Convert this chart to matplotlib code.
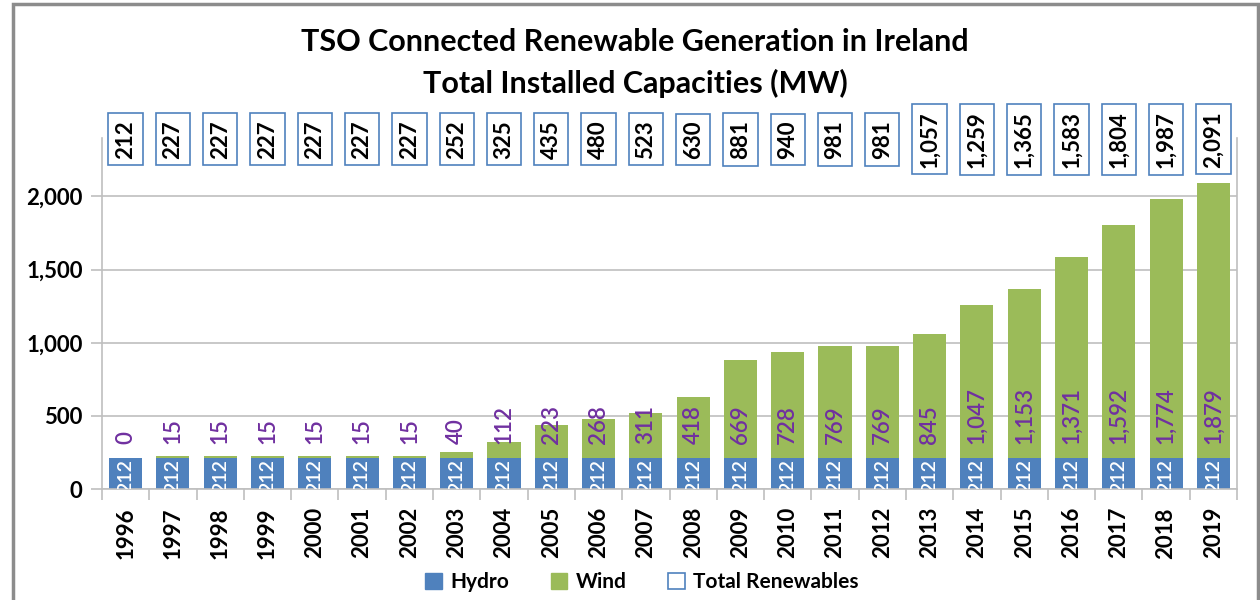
import numpy as np
import matplotlib.pyplot as plt
from matplotlib.patches import Patch, Rectangle
from matplotlib.ticker import FuncFormatter, FixedLocator

# --- DATA ---
years = [str(y) for y in range(1996, 2020)]
hydro = [212] * 24
wind = [0, 15, 15, 15, 15, 15, 15, 40, 112, 223, 268, 311, 418, 669,
        728, 769, 769, 845, 1047, 1153, 1371, 1592, 1774, 1879]
total = [212, 227, 227, 227, 227, 227, 227, 252, 325, 435, 480, 523, 630, 881,
         940, 981, 981, 1057, 1259, 1365, 1583, 1804, 1987, 2091]

HYDRO_C = '#4F81BD'
WIND_C = '#9BBB59'
LABEL_C = '#7030A0'
GRID_C = '#BFBFBF'

plt.rcParams['font.family'] = ['Lato', 'DejaVu Sans']

fig = plt.figure(figsize=(12.6, 6), dpi=100)
ax = fig.add_axes([102 / 1260, 1 - 489 / 600, (1237 - 102) / 1260, (489 - 138) / 600])

x = np.arange(len(years))
w = 0.7
ax.bar(x, hydro, w, color=HYDRO_C, zorder=2)
ax.bar(x, wind, w, bottom=hydro, color=WIND_C, zorder=2)

# hydro labels (inside end, white) - bottom gets cut by the axis like in excel
for xi, h in zip(x, hydro):
    ax.annotate(f"{h:,}", (xi, h), xytext=(0, -1), textcoords='offset points',
                rotation=90, ha='center', va='top', color='white',
                fontsize=14, fontweight='semibold', annotation_clip=False,
                clip_on=True, zorder=3)

# wind labels (inside base, purple)
for xi, h, wv in zip(x, hydro, wind):
    ax.annotate(f"{wv:,}", (xi, h), xytext=(0, 10), textcoords='offset points',
                rotation=90, ha='center', va='bottom', color=LABEL_C,
                fontsize=16, fontweight='semibold', zorder=3)

# total labels in boxes along the top
for xi, t in zip(x, total):
    ax.text(xi, 2390, f"{t:,}", rotation=90, ha='center', va='center',
            fontsize=16, fontweight='bold', clip_on=False, zorder=4,
            bbox=dict(boxstyle='square,pad=0.3', fc='white', ec=HYDRO_C, lw=1.2))

ax.set_xlim(-0.5, len(years) - 0.5)
ax.set_ylim(0, 2400)
ax.set_yticks([0, 500, 1000, 1500, 2000])
ax.yaxis.set_major_formatter(FuncFormatter(lambda v, p: f"{int(v):,}"))
ax.grid(axis='y', color=GRID_C, lw=1.2, zorder=0)
ax.tick_params(axis='y', length=8, color=GRID_C, width=1.2, labelsize=16, pad=6)
for lab in ax.get_yticklabels():
    lab.set_fontweight('bold')

ax.set_xticks(x)
ax.set_xticklabels(years, rotation=90, fontsize=16, fontweight='bold')
ax.tick_params(axis='x', length=0, pad=13)
ax.xaxis.set_minor_locator(FixedLocator(np.arange(-0.5, len(years), 1)))
ax.tick_params(axis='x', which='minor', length=8, color=GRID_C, width=1.2)

for s in ['left', 'right', 'bottom']:
    ax.spines[s].set_color(GRID_C)
    ax.spines[s].set_linewidth(1.2)
ax.spines['top'].set_visible(False)

fig.text(0.504, 1 - 42 / 600, "TSO Connected Renewable Generation in Ireland",
         ha='center', va='center', fontsize=22, fontweight='bold')
fig.text(0.504, 1 - 83 / 600, "Total Installed Capacities (MW)",
         ha='center', va='center', fontsize=22, fontweight='bold')

handles = [Patch(fc=HYDRO_C, ec=HYDRO_C, label='Hydro'),
           Patch(fc=WIND_C, ec=WIND_C, label='Wind'),
           Patch(fc='white', ec=HYDRO_C, lw=1.2, label='Total Renewables')]
leg = fig.legend(handles=handles, loc='center', bbox_to_anchor=(0.5095, 1 - 582 / 600),
                 ncol=3, frameon=False, handlelength=0.8, handleheight=0.8,
                 handletextpad=0.4, columnspacing=2.0,
                 prop={'weight': 'bold', 'size': 15})

fig.add_artist(Rectangle((13 / 1260, -0.05), 1245 / 1260, 596 / 600 + 0.05,
                         transform=fig.transFigure, fill=False, ec='#8C8C8C', lw=2.5))

fig.savefig('out.png', dpi=100)
